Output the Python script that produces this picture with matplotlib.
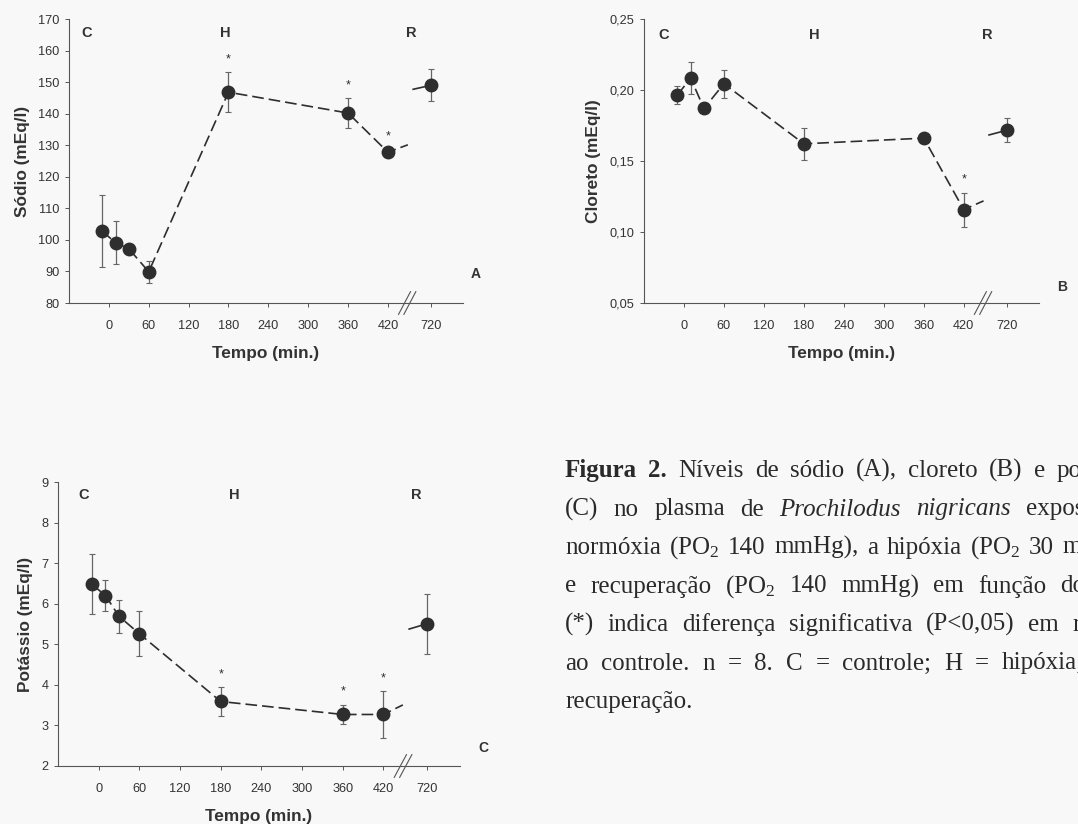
import numpy as np
import matplotlib
matplotlib.use('Agg')
import matplotlib.pyplot as plt

# time points (min); 720 is drawn after an axis break
tempo = [-10, 10, 30, 60, 180, 360, 420, 720]
tick_vals = [0, 60, 120, 180, 240, 300, 360, 420, 720]

sodio = [102.8, 99.1, 97.2, 89.9, 146.8, 140.2, 127.8, 149.0]
sodio_err = [11.5, 6.8, 0.8, 3.5, 6.3, 4.7, 0.9, 5.0]
sodio_sig = [180, 360, 420]

cloreto = [0.1964, 0.2084, 0.187, 0.2044, 0.1621, 0.1661, 0.1158, 0.1717]
cloreto_err = [0.0066, 0.0113, 0.0015, 0.010, 0.0112, 0.0012, 0.012, 0.0085]
cloreto_sig = [420]

potassio = [6.48, 6.2, 5.69, 5.26, 3.59, 3.27, 3.27, 5.51]
potassio_err = [0.74, 0.39, 0.41, 0.55, 0.35, 0.24, 0.57, 0.74]
potassio_sig = [180, 360, 420]

BREAK_POS = 485  # where 720 min is drawn
INK = '#2e2e2e'
AXC = '#555555'

plt.rcParams['font.family'] = ['Liberation Sans', 'DejaVu Sans']
plt.rcParams['mathtext.fontset'] = 'custom'
plt.rcParams['mathtext.rm'] = 'Liberation Serif'
plt.rcParams['mathtext.it'] = 'Liberation Serif:italic'
plt.rcParams['mathtext.bf'] = 'Liberation Serif:bold'


def pos(t):
    return t if t <= 420 else BREAK_POS


fig = plt.figure(figsize=(10.78, 8.24), dpi=100, facecolor='#f8f8f8')
W, H = 1078.0, 824.0


def make_ax(left, right, top, bottom):
    return fig.add_axes([left / W, 1 - bottom / H, (right - left) / W, (bottom - top) / H])


def panel(ax, y, yerr, sig, ylim, yticks, ylabel, fmt, phase_y, phase_x, letter, letter_xy):
    x = [pos(t) for t in tempo]
    ax.set_facecolor('none')
    # error bars
    ax.errorbar(x, y, yerr=yerr, fmt='none', ecolor='#666666', elinewidth=0.9,
                capsize=2.5, capthick=0.8, zorder=2)
    # main line up to 420
    ax.plot(x[:7], y[:7], color=INK, lw=1.2, linestyle=(0, (7, 3)), zorder=3)
    # stubs around the break
    y7, y8 = y[6], y[7]
    ax.plot([420, 450], [y7, y7 + 0.11 * (y8 - y7)], color=INK, lw=1.2,
            linestyle=(0, (5, 3)), zorder=3)
    ax.plot([458, BREAK_POS], [y8 - 0.06 * (y8 - y7), y8], color=INK, lw=1.2, zorder=3)
    ax.plot(x, y, 'o', color=INK, ms=9, zorder=4)
    for t in sig:
        i = tempo.index(t)
        ax.annotate('*', (pos(t), y[i] + yerr[i]), xytext=(0, 5), textcoords='offset points',
                    ha='center', va='bottom', fontsize=9, color=INK)
    ax.set_xlim(-60, 533)
    ax.set_ylim(*ylim)
    ax.set_yticks(yticks)
    ax.set_yticklabels([fmt(v) for v in yticks])
    ax.set_xticks([pos(t) for t in tick_vals])
    ax.set_xticklabels([str(t) for t in tick_vals])
    ax.tick_params(direction='out', length=3, width=0.7, color=AXC, labelsize=9.2,
                   labelcolor='#333333', pad=4)
    ax.tick_params(axis='x', pad=9)
    for s in ['top', 'right']:
        ax.spines[s].set_visible(False)
    for s in ['left', 'bottom']:
        ax.spines[s].set_color(AXC)
        ax.spines[s].set_linewidth(0.8)
    ax.set_ylabel(ylabel, fontsize=12.4, fontweight='bold', color='#333333', labelpad=6)
    ax.set_xlabel('Tempo (min.)', fontsize=12.4, fontweight='bold', color='#333333', labelpad=10)
    # axis break marks
    for dx in (-4, 4):
        ax.plot([pos(420) + 20 + dx, pos(420) + 38 + dx], [-0.04, 0.04], color=AXC, lw=0.8,
                transform=ax.get_xaxis_transform(), clip_on=False)
    for lab, px in zip(['C', 'H', 'R'], phase_x):
        ax.text(px, phase_y, lab, ha='center', va='center', fontsize=10.5,
                fontweight='bold', color='#333333')
    ax.text(letter_xy[0], letter_xy[1], letter, transform=ax.transAxes, ha='center',
            va='center', fontsize=10, fontweight='bold', color='#333333', clip_on=False)


axA = make_ax(69, 463, 19, 303)
panel(axA, sodio, sodio_err, sodio_sig, (80, 170), list(range(80, 171, 10)),
      'Sódio (mEq/l)', lambda v: str(v), 165.5, [-33, 176, 455], 'A', (1.033, 0.102))

axB = make_ax(644, 1039, 19, 303)
panel(axB, cloreto, cloreto_err, cloreto_sig, (0.05, 0.25), [0.05, 0.10, 0.15, 0.20, 0.25],
      'Cloreto (mEq/l)', lambda v: f'{v:.2f}'.replace('.', ','), 0.239, [-30, 195, 456],
      'B', (1.058, 0.056))

axC = make_ax(58, 460, 482, 766)
panel(axC, potassio, potassio_err, potassio_sig, (2, 9), list(range(2, 10)),
      'Potássio (mEq/l)', lambda v: str(v), 8.68, [-22, 200, 468], 'C', (1.057, 0.064))

# caption, justified line by line
caption = [
    [('Figura', 'bold', 'normal'), ('2.', 'bold', 'normal'), ('Níveis', 'normal', 'normal'),
     ('de', 'normal', 'normal'), ('sódio', 'normal', 'normal'), ('(A),', 'normal', 'normal'),
     ('cloreto', 'normal', 'normal'), ('(B)', 'normal', 'normal'), ('e', 'normal', 'normal'),
     ('potássio', 'normal', 'normal')],
    [('(C)', 'normal', 'normal'), ('no', 'normal', 'normal'), ('plasma', 'normal', 'normal'),
     ('de', 'normal', 'normal'), ('Prochilodus', 'normal', 'italic'),
     ('nigricans', 'normal', 'italic'), ('expostos', 'normal', 'normal'), ('a', 'normal', 'normal')],
    [('normóxia', 'normal', 'normal'), ('(PO$_2$', 'normal', 'normal'), ('140', 'normal', 'normal'),
     ('mmHg),', 'normal', 'normal'), ('a', 'normal', 'normal'), ('hipóxia', 'normal', 'normal'),
     ('(PO$_2$', 'normal', 'normal'), ('30', 'normal', 'normal'), ('mmHg)', 'normal', 'normal')],
    [('e', 'normal', 'normal'), ('recuperação', 'normal', 'normal'), ('(PO$_2$', 'normal', 'normal'),
     ('140', 'normal', 'normal'), ('mmHg)', 'normal', 'normal'), ('em', 'normal', 'normal'),
     ('função', 'normal', 'normal'), ('do', 'normal', 'normal'), ('tempo.', 'normal', 'normal')],
    [('(*)', 'normal', 'normal'), ('indica', 'normal', 'normal'), ('diferença', 'normal', 'normal'),
     ('significativa', 'normal', 'normal'), ('(P<0,05)', 'normal', 'normal'),
     ('em', 'normal', 'normal'), ('relação', 'normal', 'normal')],
    [('ao', 'normal', 'normal'), ('controle.', 'normal', 'normal'), ('n', 'normal', 'normal'),
     ('=', 'normal', 'normal'), ('8.', 'normal', 'normal'), ('C', 'normal', 'normal'),
     ('=', 'normal', 'normal'), ('controle;', 'normal', 'normal'), ('H', 'normal', 'normal'),
     ('=', 'normal', 'normal'), ('hipóxia;', 'normal', 'normal'), ('R', 'normal', 'normal'),
     ('=', 'normal', 'normal')],
    [('recuperação.', 'normal', 'normal')],
]

cap_left = 565
cap_right = [1138, 1140, 1140, 1168, 1145, 1140, 1140]
baseline0, line_step = 477, 38.5
renderer = fig.canvas.get_renderer()
for li, words in enumerate(caption):
    y = 1 - (baseline0 + li * line_step) / H
    texts = []
    widths = []
    for w, weight, style in words:
        t = fig.text(0, y, w, fontsize=18, family='Liberation Serif', fontweight=weight,
                     fontstyle=style, color='#2a2a2a', va='baseline', ha='left')
        texts.append(t)
        widths.append(t.get_window_extent(renderer).width)
    if li < len(caption) - 1 and len(words) > 1:
        gap = (cap_right[li] - cap_left - sum(widths)) / (len(words) - 1)
    else:
        gap = 6
    xcur = cap_left
    for t, wd in zip(texts, widths):
        t.set_x(xcur / W)
        xcur += wd + gap

fig.savefig('out.png', dpi=100, facecolor=fig.get_facecolor())
